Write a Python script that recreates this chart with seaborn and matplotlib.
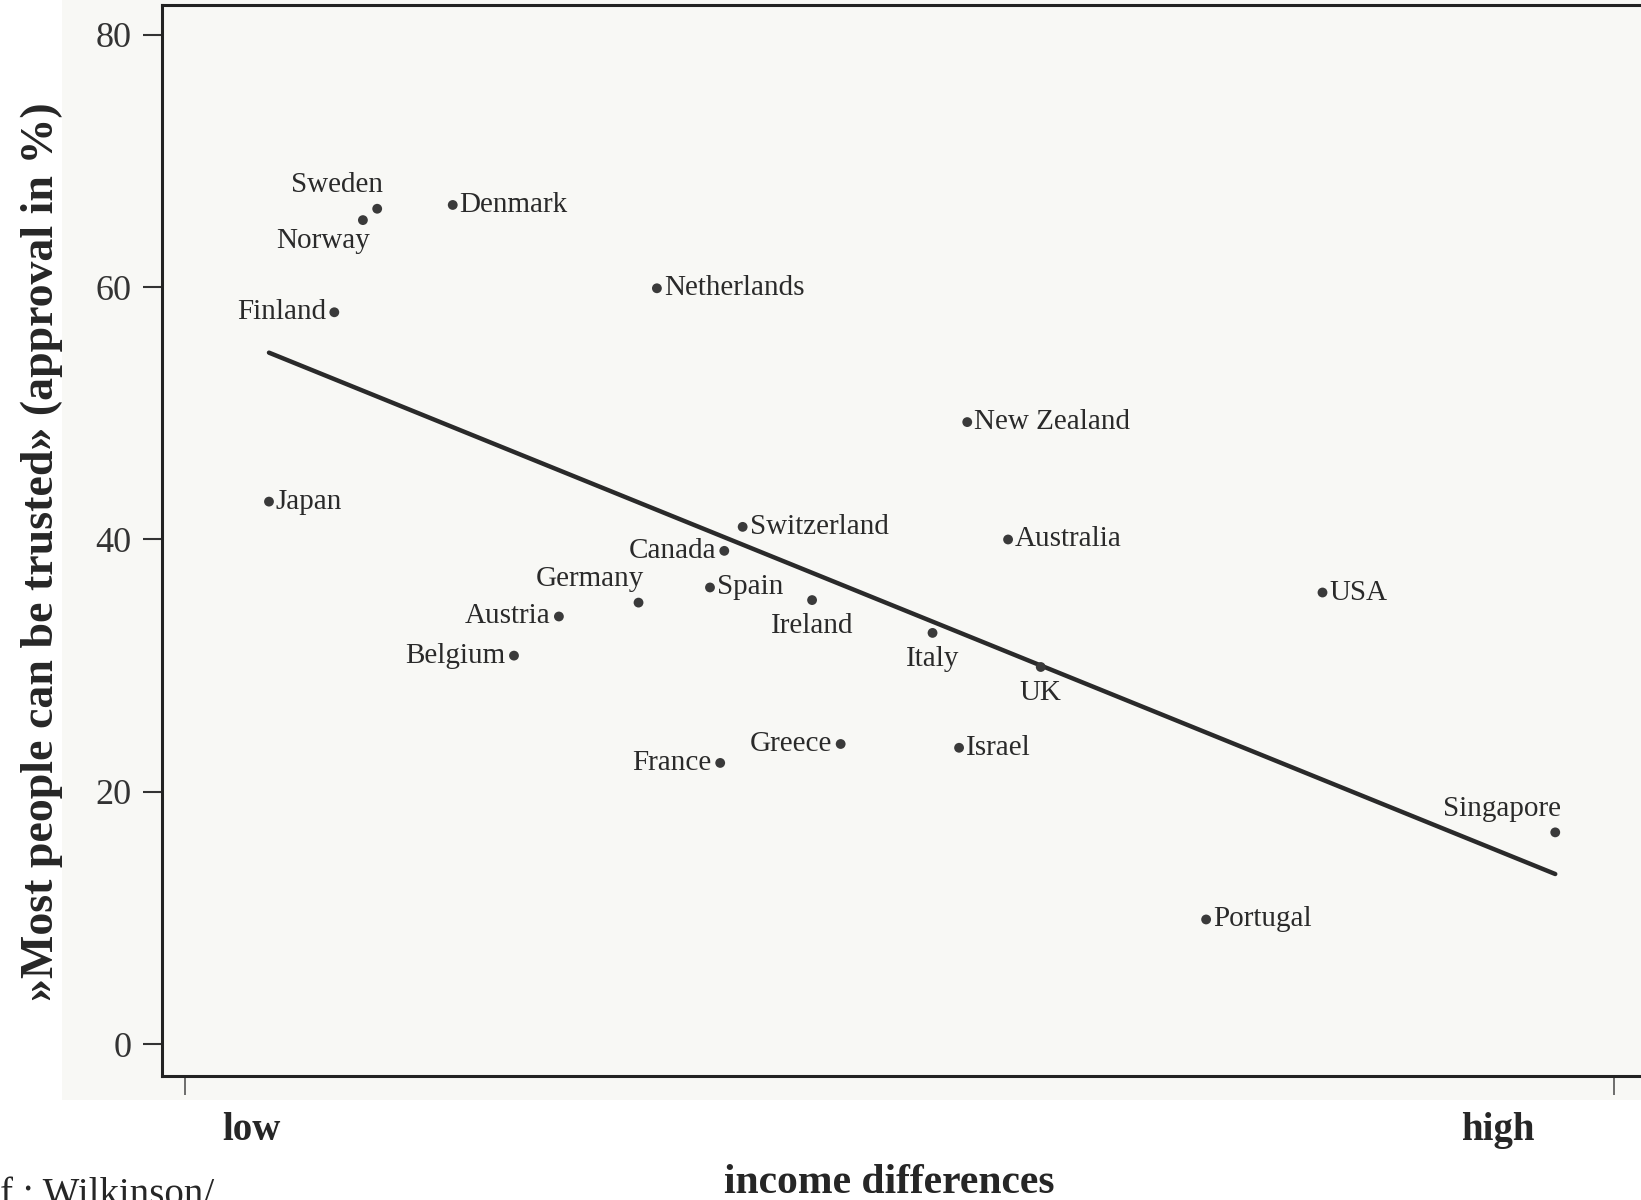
import numpy as np
import pandas as pd
import seaborn as sns
from matplotlib import pyplot as plt
from matplotlib.patches import Rectangle

sns.set_style("white")
plt.rcParams['font.family'] = ['Liberation Serif', 'DejaVu Serif']

# income inequality (ratio richest/poorest 20%) vs. trust in %
countries = ['Sweden', 'Norway', 'Denmark', 'Finland', 'Netherlands', 'Japan',
             'New Zealand', 'Switzerland', 'Australia', 'Canada', 'Spain',
             'Germany', 'Ireland', 'Austria', 'Belgium', 'Italy', 'UK', 'USA',
             'Greece', 'Israel', 'France', 'Singapore', 'Portugal']
inequality = [3.94, 3.87, 4.31, 3.73, 5.31, 3.41,
              6.83, 5.73, 7.03, 5.64, 5.57,
              5.22, 6.07, 4.83, 4.61, 6.66, 7.19, 8.57,
              6.21, 6.79, 5.62, 9.71, 8.00]
trust = [66.2, 65.3, 66.5, 58.0, 59.9, 43.0,
         49.3, 41.0, 40.0, 39.1, 36.2,
         35.0, 35.2, 33.9, 30.8, 32.6, 29.9, 35.8,
         23.8, 23.5, 22.3, 16.8, 9.9]

# printed regression line (end points)
fit_x = [3.41, 9.71]
fit_y = [54.8, 13.5]

df = pd.DataFrame({'country': countries, 'inequality': inequality, 'trust': trust})

# where each label sits relative to its dot
placement = {'Sweden': 'above_left', 'Norway': 'below_left', 'Finland': 'left',
             'Canada': 'left', 'Austria': 'left', 'Belgium': 'left',
             'Greece': 'left', 'France': 'left', 'Germany': 'above_left',
             'Singapore': 'above_left', 'Ireland': 'below', 'Italy': 'below',
             'UK': 'below'}
offsets = {'right': ((5, 0), 'left'), 'left': ((-6, 0), 'right'),
           'above_left': ((4, 17), 'right'), 'below_left': ((5, -15), 'right'),
           'below': ((0, -19), 'center')}

fig = plt.figure(figsize=(16.41, 12), dpi=100)
# scanned page area
fig.patches.append(Rectangle((62 / 1641, 1 - 1100 / 1200), 1 - 62 / 1641, 1100 / 1200,
                             transform=fig.transFigure, facecolor='#f8f8f5',
                             edgecolor='none', zorder=-5))
ax = fig.add_axes([162 / 1641, 1 - 1076 / 1200, 1 - 162 / 1641, (1076 - 5) / 1200])
ax.set_facecolor('none')
ax.set_zorder(2)

sns.lineplot(x=fit_x, y=fit_y, ax=ax, color='#2a2a2a', linewidth=3.2)
sns.scatterplot(data=df, x='inequality', y='trust', ax=ax, color='#3a3a3a',
                s=50, edgecolor='none', zorder=3)

for name, xv, yv in zip(countries, inequality, trust):
    (dx, dy), ha = offsets[placement.get(name, 'right')]
    ax.annotate(name, (xv, yv), xytext=(dx, dy), textcoords='offset points',
                ha=ha, va='center', fontsize=21, color='#2a2a2a')

ax.set_xlim(2.886, 10.13)
ax.set_ylim(-2.5, 82.34)
ax.set_yticks([0, 20, 40, 60, 80])
ax.set_xticks([3, 10])
ax.set_xticklabels([])
ax.tick_params(axis='y', direction='out', length=14, width=1.5, pad=8,
               labelsize=26, colors='#333333', left=True)
ax.tick_params(axis='x', direction='out', length=14, width=1.2, bottom=True,
               colors='#555555')
for s in ['left', 'bottom', 'top']:
    ax.spines[s].set_color('#222222')
    ax.spines[s].set_linewidth(2.2)
ax.spines['right'].set_visible(False)
ax.set_xlabel('')
ax.set_ylabel('')

fig.text(0.0256, 0.54, '»Most people can be trusted» (approval in %)', rotation=90,
         ha='center', va='center', fontsize=33, fontweight='bold', family='Liberation Serif')
fig.text(0.153, 0.058, 'low', ha='center', va='center', fontsize=28,
         fontweight='bold', family='Liberation Serif')
fig.text(0.913, 0.058, 'high', ha='center', va='center', fontsize=28,
         fontweight='bold', family='Liberation Serif')
fig.text(0.542, 0.014, 'income differences', ha='center', va='center', fontsize=30,
         fontweight='bold', family='Liberation Serif')
fig.text(0.0, 0.019, 'f.: Wilkinson/', ha='left', va='top', fontsize=28,
         family='Liberation Serif')

fig.savefig('out.png', dpi=100)
